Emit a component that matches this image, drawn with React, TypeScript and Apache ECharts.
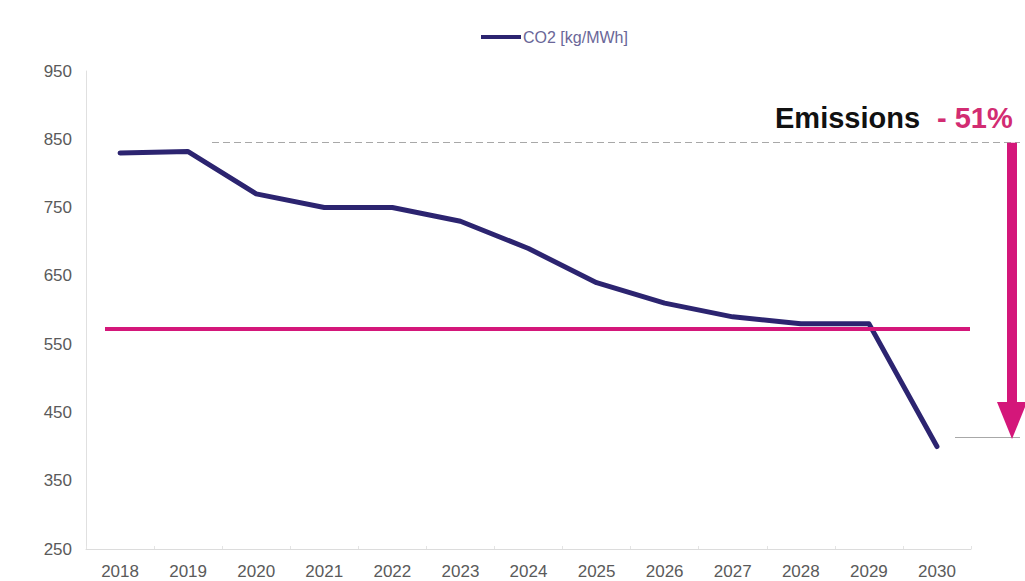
import React, { useEffect, useRef } from "react";
import * as echarts from "echarts";

const years = ["2018","2019","2020","2021","2022","2023","2024","2025","2026","2027","2028","2029","2030"];
const co2 = [830, 832, 770, 750, 750, 730, 690, 640, 610, 590, 580, 580, 400];
const targetLevel = 573;
const startLevel = 845;
const endLevel = 413;
const arrowEnd = 438;
const yLabels = [250, 350, 450, 550, 650, 750, 850, 950];
const seriesName = "CO2 [kg/MWh]";
const titleText = "Emissions";
const pctText = "- 51%";

const NAVY = "#2c2470";
const MAGENTA = "#d4177a";

export default function App() {
  const ref = useRef<HTMLDivElement>(null);
  useEffect(() => {
    if (!ref.current) return;
    const chart = echarts.init(ref.current, null, { renderer: "svg" });
    chart.setOption({
      animation: false,
      backgroundColor: "#ffffff",
      textStyle: { fontFamily: "Liberation Sans, Arial, sans-serif" },
      legend: {
        left: 476,
        top: 24,
        itemWidth: 40,
        itemHeight: 4,
        itemGap: 2,
        icon: "rect",
        data: [seriesName],
        textStyle: { color: "#6a6698", fontSize: 16, fontFamily: "Liberation Sans, Arial, sans-serif", padding: [0, 0, 0, -3] },
      },
      grid: { left: 86, right: 54, top: 71, bottom: 32, containLabel: false },
      xAxis: {
        type: "category",
        data: years,
        boundaryGap: true,
        axisLine: { lineStyle: { color: "#dcdcdc", width: 1 } },
        axisTick: { show: true, inside: true, length: 3, lineStyle: { color: "#e4e4e4" } },
        axisLabel: { color: "#5a5a5a", fontSize: 17, margin: 14 },
        splitLine: { show: false },
      },
      yAxis: {
        type: "value",
        min: 250,
        max: 950,
        interval: 50,
        axisLine: { show: true, lineStyle: { color: "#e0e0e0", width: 1 } },
        axisTick: { show: false },
        splitLine: { show: false },
        axisLabel: {
          color: "#5a5a5a",
          fontSize: 17,
          margin: 14,
          formatter: (v: number) => (yLabels.indexOf(v) >= 0 ? String(v) : ""),
        },
      },
      series: [
        {
          name: seriesName,
          type: "line",
          data: co2,
          symbol: "none",
          lineStyle: { color: NAVY, width: 5, join: "round", cap: "round" },
          itemStyle: { color: NAVY },
          z: 3,
          markLine: {
            silent: true,
            animation: false,
            label: { show: false },
            emphasis: { disabled: true },
            data: [
              [
                { x: 105, yAxis: targetLevel, symbol: "none", lineStyle: { color: MAGENTA, width: 4, type: "solid" } },
                { x: 970, yAxis: targetLevel, symbol: "none" },
              ],
              [
                { x: 212, yAxis: startLevel, symbol: "none", lineStyle: { color: "#a8a8a8", width: 1, type: [7, 4] } },
                { x: 1020, yAxis: startLevel, symbol: "none" },
              ],
              [
                { x: 955, yAxis: endLevel, symbol: "none", lineStyle: { color: "#a8a8a8", width: 1, type: "solid" } },
                { x: 1020, yAxis: endLevel, symbol: "none" },
              ],
              [
                { x: 1012, yAxis: startLevel, symbol: "none", lineStyle: { color: MAGENTA, width: 10, type: "solid", cap: "butt" } },
                { x: 1012, yAxis: arrowEnd, symbol: "triangle", symbolSize: [30, 37], itemStyle: { color: MAGENTA } },
              ],
            ],
          },
        },
      ],
      graphic: [
        {
          type: "text",
          left: 775,
          top: 103,
          style: {
            text: titleText,
            fill: "#111111",
            font: "bold 29px 'Liberation Sans', Arial, sans-serif",
          },
        },
        {
          type: "text",
          left: 937,
          top: 103,
          style: {
            text: pctText,
            fill: "#d22c72",
            font: "bold 29px 'Liberation Sans', Arial, sans-serif",
          },
        },
      ],
    });
    return () => chart.dispose();
  }, []);
  return (
    <div
      ref={ref}
      style={{ position: "fixed", left: 0, top: 0, width: 1025, height: 581 }}
    />
  );
}
